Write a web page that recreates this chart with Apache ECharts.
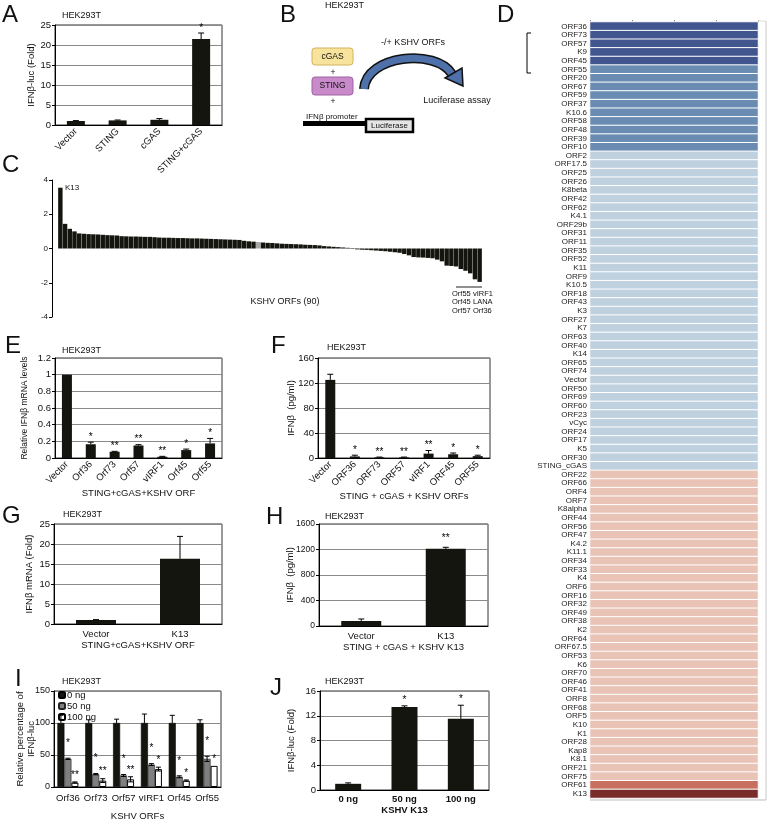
<!DOCTYPE html>
<html><head><meta charset="utf-8">
<script src="https://cdn.jsdelivr.net/npm/echarts@6/dist/echarts.min.js"></script>
<style>html,body{margin:0;padding:0;background:#fff}#c{width:769px;height:822px}</style>
</head><body><div id="c"></div>
<script>
const FF = 'Liberation Sans, Arial, sans-serif';

// ---------- Panel A ----------
const aCats = ['Vector', 'STING', 'cGAS', 'STING+cGAS'];
const aVals = [1.0, 1.15, 1.3, 21.5];
const aErr = [0.1, 0.1, 0.3, 1.5];
const aStars = ['', '', '', '*'];

// ---------- Panel C (90 KSHV ORFs, sorted) ----------
const cVals = [3.55, 1.44, 1.15, 1.0, 0.88, 0.86, 0.84, 0.83, 0.82, 0.80,
  0.78, 0.77, 0.76, 0.72, 0.71, 0.70, 0.70, 0.69, 0.68, 0.68,
  0.66, 0.64, 0.63, 0.63, 0.62, 0.61, 0.61, 0.60, 0.59, 0.59,
  0.58, 0.57, 0.56, 0.55, 0.54, 0.53, 0.52, 0.51, 0.50, 0.45,
  0.42, 0.40, 0.38, 0.35, 0.33, 0.32, 0.30, 0.28, 0.27, 0.26,
  0.25, 0.24, 0.22, 0.21, 0.20, 0.18, 0.14, 0.12, 0.10, 0.08,
  0.06, 0.04, -0.03, -0.05, -0.07, -0.08, -0.10, -0.12, -0.14, -0.16,
  -0.19, -0.22, -0.25, -0.32, -0.40, -0.50, -0.52, -0.53, -0.55, -0.57,
  -0.65, -0.75, -1.00, -1.02, -1.05, -1.20, -1.30, -1.45, -1.80, -1.95];
const cGrayIndex = 42;

// ---------- Panel E ----------
const eCats = ['Vector', 'Orf36', 'Orf73', 'Orf57', 'vIRF1', 'Orf45', 'Orf55'];
const eVals = [1.0, 0.165, 0.075, 0.15, 0.015, 0.095, 0.175];
const eErr = [0, 0.025, 0.005, 0.01, 0.005, 0.012, 0.06];
const eStars = ['', '*', '**', '**', '**', '*', '*'];

// ---------- Panel F ----------
const fCats = ['Vector', 'ORF36', 'ORF73', 'ORF57', 'vIRF1', 'ORF45', 'ORF55'];
const fVals = [125, 2.5, 1, 1, 7, 6, 3];
const fErr = [9, 2, 0.5, 0.5, 5, 2, 1.5];
const fStars = ['', '*', '**', '**', '**', '*', '*'];

// ---------- Panel G ----------
const gCats = ['Vector', 'K13'];
const gVals = [1.0, 16.3];
const gErr = [0.1, 5.6];

// ---------- Panel H ----------
const hCats = ['Vector', 'K13'];
const hVals = [80, 1210];
const hErr = [30, 25];
const hStars = ['', '**'];

// ---------- Panel I ----------
const iCats = ['Orf36', 'Orf73', 'Orf57', 'vIRF1', 'Orf45', 'Orf55'];
const i0 = [100, 100, 100, 100, 100, 100];
const i0Err = [12, 5, 6, 14, 12, 5];
const i50 = [44, 20, 18, 35, 16, 44];
const i50Err = [1, 1, 1.5, 1.5, 1.5, 4];
const i50Stars = ['*', '*', '*', '*', '*', '*'];
const i100 = [7, 10, 12, 28, 10, 33];
const i100Err = [1, 3, 4, 3, 1, 0];
const i100Stars = ['**', '**', '**', '*', '*', '*'];

// ---------- Panel J ----------
const jCats = ['0 ng', '50 ng', '100 ng'];
const jVals = [1.0, 13.4, 11.5];
const jErr = [0.15, 0.2, 2.2];
const jStars = ['', '*', '*'];

// ---------- Panel D (heat map, top to bottom) ----------
const dOrfs = ['ORF36','ORF73','ORF57','K9','ORF45','ORF55','ORF20','ORF67','ORF59','ORF37',
  'K10.6','ORF58','ORF48','ORF39','ORF10','ORF2','ORF17.5','ORF25','ORF26','K8beta',
  'ORF42','ORF62','K4.1','ORF29b','ORF31','ORF11','ORF35','ORF52','K11','ORF9',
  'K10.5','ORF18','ORF43','K3','ORF27','K7','ORF63','ORF40','K14','ORF65',
  'ORF74','Vector','ORF50','ORF69','ORF60','ORF23','vCyc','ORF24','ORF17','K5',
  'ORF30','STING_cGAS','ORF22','ORF66','ORF4','ORF7','K8alpha','ORF44','ORF56','ORF47',
  'K4.2','K11.1','ORF34','ORF33','K4','ORF6','ORF16','ORF32','ORF49','ORF38',
  'K2','ORF64','ORF67.5','ORF53','K6','ORF70','ORF46','ORF41','ORF8','ORF68',
  'ORF5','K10','K1','ORF28','Kap8','K8.1','ORF21','ORF75','ORF61','K13'];
const dLevels = [-3,-3,-3,-3,-3,-2,-2,-2,-2,-2,
  -2,-2,-2,-2,-2,-1,-1,-1,-1,-1,
  -1,-1,-1,-1,-1,-1,-1,-1,-1,-1,
  -1,-1,-1,-1,-1,-1,-1,-1,-1,-1,
  -1,-1,-1,-1,-1,-1,-1,-1,-1,-1,
  -1,-1,1,1,1,1,1,1,1,1,
  1,1,1,1,1,1,1,1,1,1,
  1,1,1,1,1,1,1,1,1,1,
  1,1,1,1,1,1,1,1,2,3];

// ---------- helpers ----------
const BAR = '#15150f';
function catAxis(grid, data, extra) {
  return Object.assign({
    type: 'category', gridIndex: grid, data: data,
    axisLine: { lineStyle: { color: '#000' } },
    axisTick: { length: 3, lineStyle: { color: '#000' } },
    axisLabel: { color: '#111', fontSize: 9.5, fontFamily: FF, interval: 0, margin: 4 },
    nameTextStyle: { fontSize: 9.5, color: '#111', fontFamily: FF }
  }, extra || {});
}
function valAxis(grid, min, max, interval, name, gap, extra) {
  return Object.assign({
    type: 'value', gridIndex: grid, min: min, max: max, interval: interval,
    name: name, nameLocation: 'middle', nameGap: gap, nameMoveOverlap: false,
    nameTextStyle: { fontSize: 9.5, color: '#111', fontFamily: FF, lineHeight: 12 },
    axisLine: { show: true, lineStyle: { color: '#000' } },
    axisTick: { show: true, length: 3, lineStyle: { color: '#000' } },
    axisLabel: { color: '#111', fontSize: 9.5, fontFamily: FF, margin: 4, formatter: v => String(v) },
    splitLine: { show: true, lineStyle: { color: '#8a8a8a' } }
  }, extra || {});
}
function bars(idx, vals, width, extra) {
  return Object.assign({
    type: 'bar', xAxisIndex: idx, yAxisIndex: idx, data: vals, barWidth: width,
    itemStyle: { color: BAR }, silent: true
  }, extra || {});
}
function errBars(idx, vals, errs, stars, o) {
  o = o || {};
  return {
    type: 'custom', xAxisIndex: idx, yAxisIndex: idx, silent: true, z: 5,
    data: vals.map((v, i) => [i, v, errs[i]]),
    renderItem: function (params, api) {
      const i = api.value(0), v = api.value(1), e = api.value(2);
      const p = api.coord([i, v + e]);
      const q = api.coord([i, o.both ? Math.max(0, v - e) : v]);
      const x = p[0] + (o.dx || 0);
      const cap = o.cap || 3;
      const ch = [];
      if (e > 0) {
        ch.push({ type: 'line', shape: { x1: x, y1: p[1], x2: x, y2: q[1] }, style: { stroke: '#000', lineWidth: 1 } });
        ch.push({ type: 'line', shape: { x1: x - cap, y1: p[1], x2: x + cap, y2: p[1] }, style: { stroke: '#000', lineWidth: 1 } });
        if (o.both) ch.push({ type: 'line', shape: { x1: x - cap, y1: q[1], x2: x + cap, y2: q[1] }, style: { stroke: '#000', lineWidth: 1 } });
      }
      const s = stars ? stars[params.dataIndex] : '';
      if (s) ch.push({ type: 'text', x: x + (o.sdx || 0), y: p[1] - (o.sgap || 0),
        style: { text: s, fontSize: o.sfs || 10, fontFamily: FF, fill: '#000', align: 'center', verticalAlign: 'bottom', textAlign: 'center', textVerticalAlign: 'bottom' } });
      return { type: 'group', children: ch };
    }
  };
}
function T(x, y, text, size, align, valign, extra) {
  return { type: 'text', x: x, y: y, silent: true, z: 10,
    style: Object.assign({ text: text, fontSize: size, fontFamily: FF, fill: '#111',
      align: align || 'left', verticalAlign: valign || 'middle',
      textAlign: align || 'left', textVerticalAlign: valign || 'middle' }, extra || {}) };
}
function L(x1, y1, x2, y2, color, w) {
  return { type: 'line', silent: true, z: 10, shape: { x1: x1, y1: y1, x2: x2, y2: y2 }, style: { stroke: color || '#000', lineWidth: w || 1 } };
}

const gridBorder = { show: true, borderColor: '#333', borderWidth: 1, backgroundColor: 'transparent' };
const grids = [
  Object.assign({ left: 55, top: 25, width: 167, height: 100 }, gridBorder),   // 0 A
  { left: 58, top: 180, width: 424, height: 137 },                           // 1 C
  Object.assign({ left: 55, top: 358, width: 167, height: 100 }, gridBorder),  // 2 E
  Object.assign({ left: 318, top: 358, width: 172, height: 100 }, gridBorder), // 3 F
  Object.assign({ left: 54, top: 524, width: 168, height: 100 }, gridBorder),  // 4 G
  Object.assign({ left: 319, top: 524, width: 169, height: 102 }, gridBorder), // 5 H
  Object.assign({ left: 54, top: 691, width: 167, height: 101 }, gridBorder),  // 6 I
  Object.assign({ left: 320, top: 691, width: 169, height: 99 }, gridBorder),  // 7 J
  { left: 590, top: 22, width: 168, height: 776 }                            // 8 D
];

const rot = { rotate: 45, color: '#111', fontSize: 9.5, fontFamily: FF, interval: 0, margin: 5 };

const xAxes = [
  catAxis(0, aCats, { axisLabel: rot }),
  catAxis(1, cVals.map((v, i) => String(i + 1)), { axisLine: { show: false }, axisTick: { show: false }, axisLabel: { show: false } }),
  catAxis(2, eCats, { axisLabel: rot, name: 'STING+cGAS+KSHV ORF', nameLocation: 'middle', nameGap: 27 }),
  catAxis(3, fCats, { axisLabel: rot, name: 'STING + cGAS + KSHV ORFs', nameLocation: 'middle', nameGap: 31 }),
  catAxis(4, gCats, { axisLabel: { color: '#111', fontSize: 9.5, fontFamily: FF, margin: 5 }, name: 'STING+cGAS+KSHV ORF', nameLocation: 'middle', nameGap: 13 }),
  catAxis(5, hCats, { axisLabel: { color: '#111', fontSize: 9.5, fontFamily: FF, margin: 5 }, name: 'STING + cGAS + KSHV K13', nameLocation: 'middle', nameGap: 12 }),
  catAxis(6, iCats, { axisLabel: { color: '#111', fontSize: 9.5, fontFamily: FF, margin: 6, interval: 0 }, name: 'KSHV ORFs', nameLocation: 'middle', nameGap: 24 }),
  catAxis(7, jCats, { axisLabel: { color: '#111', fontSize: 9.5, fontFamily: FF, margin: 4, fontWeight: 'bold' }, name: 'KSHV K13', nameLocation: 'middle', nameGap: 14, nameTextStyle: { fontSize: 9.5, color: '#111', fontFamily: FF, fontWeight: 'bold' } }),
  { type: 'category', gridIndex: 8, data: [''], show: false },
  { type: 'value', gridIndex: 8, position: 'top', min: 0, max: 4, interval: 1,
    axisLine: { show: false }, axisTick: { show: true, length: 2, lineStyle: { color: '#888' } },
    axisLabel: { show: false }, splitLine: { show: false } }
];

const yAxes = [
  valAxis(0, 0, 25, 5, 'IFNβ-luc (Fold)', 18),
  valAxis(1, -4, 4, 2, '', 0, { offset: 6, splitLine: { show: false }, axisLabel: { color: '#111', fontSize: 8, fontFamily: FF, margin: 4 } }),
  valAxis(2, 0, 1.2, 0.2, 'Relative IFNβ mRNA levels', 26, { nameTextStyle: { fontSize: 8.5, color: '#111', fontFamily: FF } }),
  valAxis(3, 0, 160, 40, 'IFNβ  (pg/ml)', 21),
  valAxis(4, 0, 25, 5, 'IFNβ mRNA (Fold)', 19),
  valAxis(5, 0, 1600, 400, 'IFNβ  (pg/ml)', 23, { axisLabel: { color: '#111', fontSize: 8.5, fontFamily: FF, margin: 4, formatter: v => String(v) } }),
  valAxis(6, 0, 150, 50, 'Relative percentage of\nIFNβ-luc', 17, { nameTextStyle: { fontSize: 9.5, color: '#111', fontFamily: FF, lineHeight: 11 }, axisLabel: { color: '#111', fontSize: 9, fontFamily: FF, margin: 4, formatter: v => String(v) } }),
  valAxis(7, 0, 16, 4, 'IFNβ-luc (Fold)', 23),
  { type: 'category', gridIndex: 8, data: dOrfs, inverse: true,
    axisLine: { show: false }, axisTick: { show: false },
    axisLabel: { interval: 0, fontSize: 8, fontFamily: FF, color: '#222', margin: 3 } }
];

const series = [
  bars(0, aVals, 18),
  errBars(0, aVals, aErr, aStars, { sgap: 0 }),
  bars(1, cVals.map((v, i) => i === cGrayIndex ? { value: v, itemStyle: { color: '#a8a8a8' } } : v), null, { barCategoryGap: '6%' }),
  bars(2, eVals, 10),
  errBars(2, eVals, eErr, eStars, { sgap: 0 }),
  bars(3, fVals, 10),
  errBars(3, fVals, fErr, fStars, { sgap: 0 }),
  bars(4, gVals, 40),
  errBars(4, gVals, gErr, null, {}),
  bars(5, hVals, 40),
  errBars(5, hVals, hErr, hStars, { sgap: 4 }),
  bars(6, i0, 7, { name: '0 ng', barGap: '0%', itemStyle: { color: BAR, borderColor: '#000', borderWidth: 0.6 } }),
  bars(6, i50, 7, { name: '50 ng', barGap: '0%', itemStyle: { color: '#7f7f7f', borderColor: '#222', borderWidth: 0.6 } }),
  bars(6, i100, 7, { name: '100 ng', barGap: '0%', itemStyle: { color: '#ffffff', borderColor: '#000', borderWidth: 1 } }),
  errBars(6, i0, i0Err, null, { dx: -7, cap: 2.5 }),
  errBars(6, i50, i50Err, i50Stars, { dx: 0, cap: 2.5, both: true, sgap: 10 }),
  errBars(6, i100, i100Err, i100Stars, { dx: 7, cap: 2.5, both: true, sgap: 2 }),
  bars(7, jVals, 26),
  errBars(7, jVals, jErr, jStars, { sgap: 1 }),
  { type: 'heatmap', xAxisIndex: 8, yAxisIndex: 8, silent: true,
    data: dOrfs.map((n, i) => [0, i, dLevels[i]]),
    itemStyle: { borderColor: '#ffffff', borderWidth: 1 } }
];

const graphics = [
  // panel letters
  T(2, 15, 'A', 24), T(280, 15, 'B', 24), T(2, 165, 'C', 24), T(497, 15, 'D', 24),
  T(5, 346, 'E', 24), T(271, 346, 'F', 24), T(2, 516, 'G', 24), T(266, 517, 'H', 24),
  T(15, 679, 'I', 24), T(270, 688, 'J', 24),
  // HEK293T labels
  T(62, 16, 'HEK293T', 9), T(325, 6, 'HEK293T', 9), T(62, 351, 'HEK293T', 9),
  T(327, 348, 'HEK293T', 9), T(63, 515, 'HEK293T', 9), T(325, 517, 'HEK293T', 9),
  T(62, 682, 'HEK293T', 9), T(325, 682, 'HEK293T', 9),
  // panel C annotations
  T(65, 188, 'K13', 8), T(285, 302, 'KSHV ORFs (90)', 9, 'center'),
  L(456, 287, 482, 287, '#222', 1),
  T(452, 294, 'Orf55', 7.5), T(452, 302, 'Orf45', 7.5), T(452, 311, 'Orf57', 7.5),
  T(473, 294, 'vIRF1', 7.5), T(473, 302, 'LANA', 7.5), T(473, 311, 'Orf36', 7.5),
  // panel D frame and bracket
  L(766, 21, 766, 800, '#c8c8c8', 1), L(590, 800, 766, 800, '#bdbdbd', 1),
  L(758, 21, 766, 21, '#dddddd', 1),
  { type: 'polyline', silent: true, z: 10, shape: { points: [[531, 33], [527, 33], [527, 73], [531, 73]] }, style: { stroke: '#000', lineWidth: 1, fill: null } },
  // panel B diagram
  { type: 'rect', silent: true, z: 10, shape: { x: 312, y: 48, width: 41, height: 17, r: 3 }, style: { fill: '#f8e39c', stroke: '#d3b25c', lineWidth: 1 } },
  T(332.5, 56.5, 'cGAS', 8.5, 'center'),
  T(333, 73, '+', 8.5, 'center'),
  { type: 'rect', silent: true, z: 10, shape: { x: 312, y: 77, width: 41, height: 18, r: 3 }, style: { fill: '#c98ac9', stroke: '#9f62a4', lineWidth: 1 } },
  T(332.5, 86, 'STING', 8.5, 'center'),
  T(333, 102, '+', 8.5, 'center'),
  T(306, 116.5, 'IFNβ promoter', 8),
  { type: 'rect', silent: true, z: 10, shape: { x: 303, y: 121, width: 65, height: 5 }, style: { fill: '#000' } },
  { type: 'rect', silent: true, z: 10, shape: { x: 366, y: 119, width: 47, height: 13 }, style: { fill: '#e4e4e4', stroke: '#000', lineWidth: 2.5 } },
  T(389.5, 125.5, 'Luciferase', 8, 'center'),
  { type: 'bezierCurve', silent: true, z: 10, shape: { x1: 364, y1: 89, cpx1: 366, cpy1: 55, cpx2: 436, cpy2: 48, x2: 452, y2: 74 }, style: { stroke: '#111', lineWidth: 10, fill: null } },
  { type: 'bezierCurve', silent: true, z: 11, shape: { x1: 364, y1: 89, cpx1: 366, cpy1: 55, cpx2: 436, cpy2: 48, x2: 452, y2: 74 }, style: { stroke: '#4f71aa', lineWidth: 7, fill: null } },
  { type: 'polygon', silent: true, z: 12, shape: { points: [[462, 68], [463, 86], [445, 78]] }, style: { fill: '#4f71aa', stroke: '#111', lineWidth: 1.5 } },
  T(413, 43, '-/+ KSHV ORFs', 9, 'center'),
  T(457, 101, 'Luciferase assay', 9, 'center')
];

const chart = echarts.init(document.getElementById('c'), null, { renderer: 'canvas' });
chart.setOption({
  animation: false,
  backgroundColor: '#fff',
  textStyle: { fontFamily: FF },
  grid: grids,
  xAxis: xAxes,
  yAxis: yAxes,
  legend: {
    data: ['0 ng', '50 ng', '100 ng'], left: 58, top: 690, orient: 'vertical',
    itemWidth: 6, itemHeight: 6, itemGap: 1, padding: 0, selectedMode: false,
    textStyle: { fontSize: 9.5, fontFamily: FF, color: '#111', padding: [0, 0, 0, -3] }
  },
  visualMap: {
    type: 'piecewise', show: false, seriesIndex: 19, dimension: 2,
    pieces: [
      { value: -3, color: '#41558f' }, { value: -2, color: '#6a8cb3' },
      { value: -1, color: '#bfd0df' }, { value: 1, color: '#e8c3b6' },
      { value: 2, color: '#c8705f' }, { value: 3, color: '#7a2c2b' }
    ]
  },
  series: series,
  graphic: graphics
});
</script>
</body></html>
